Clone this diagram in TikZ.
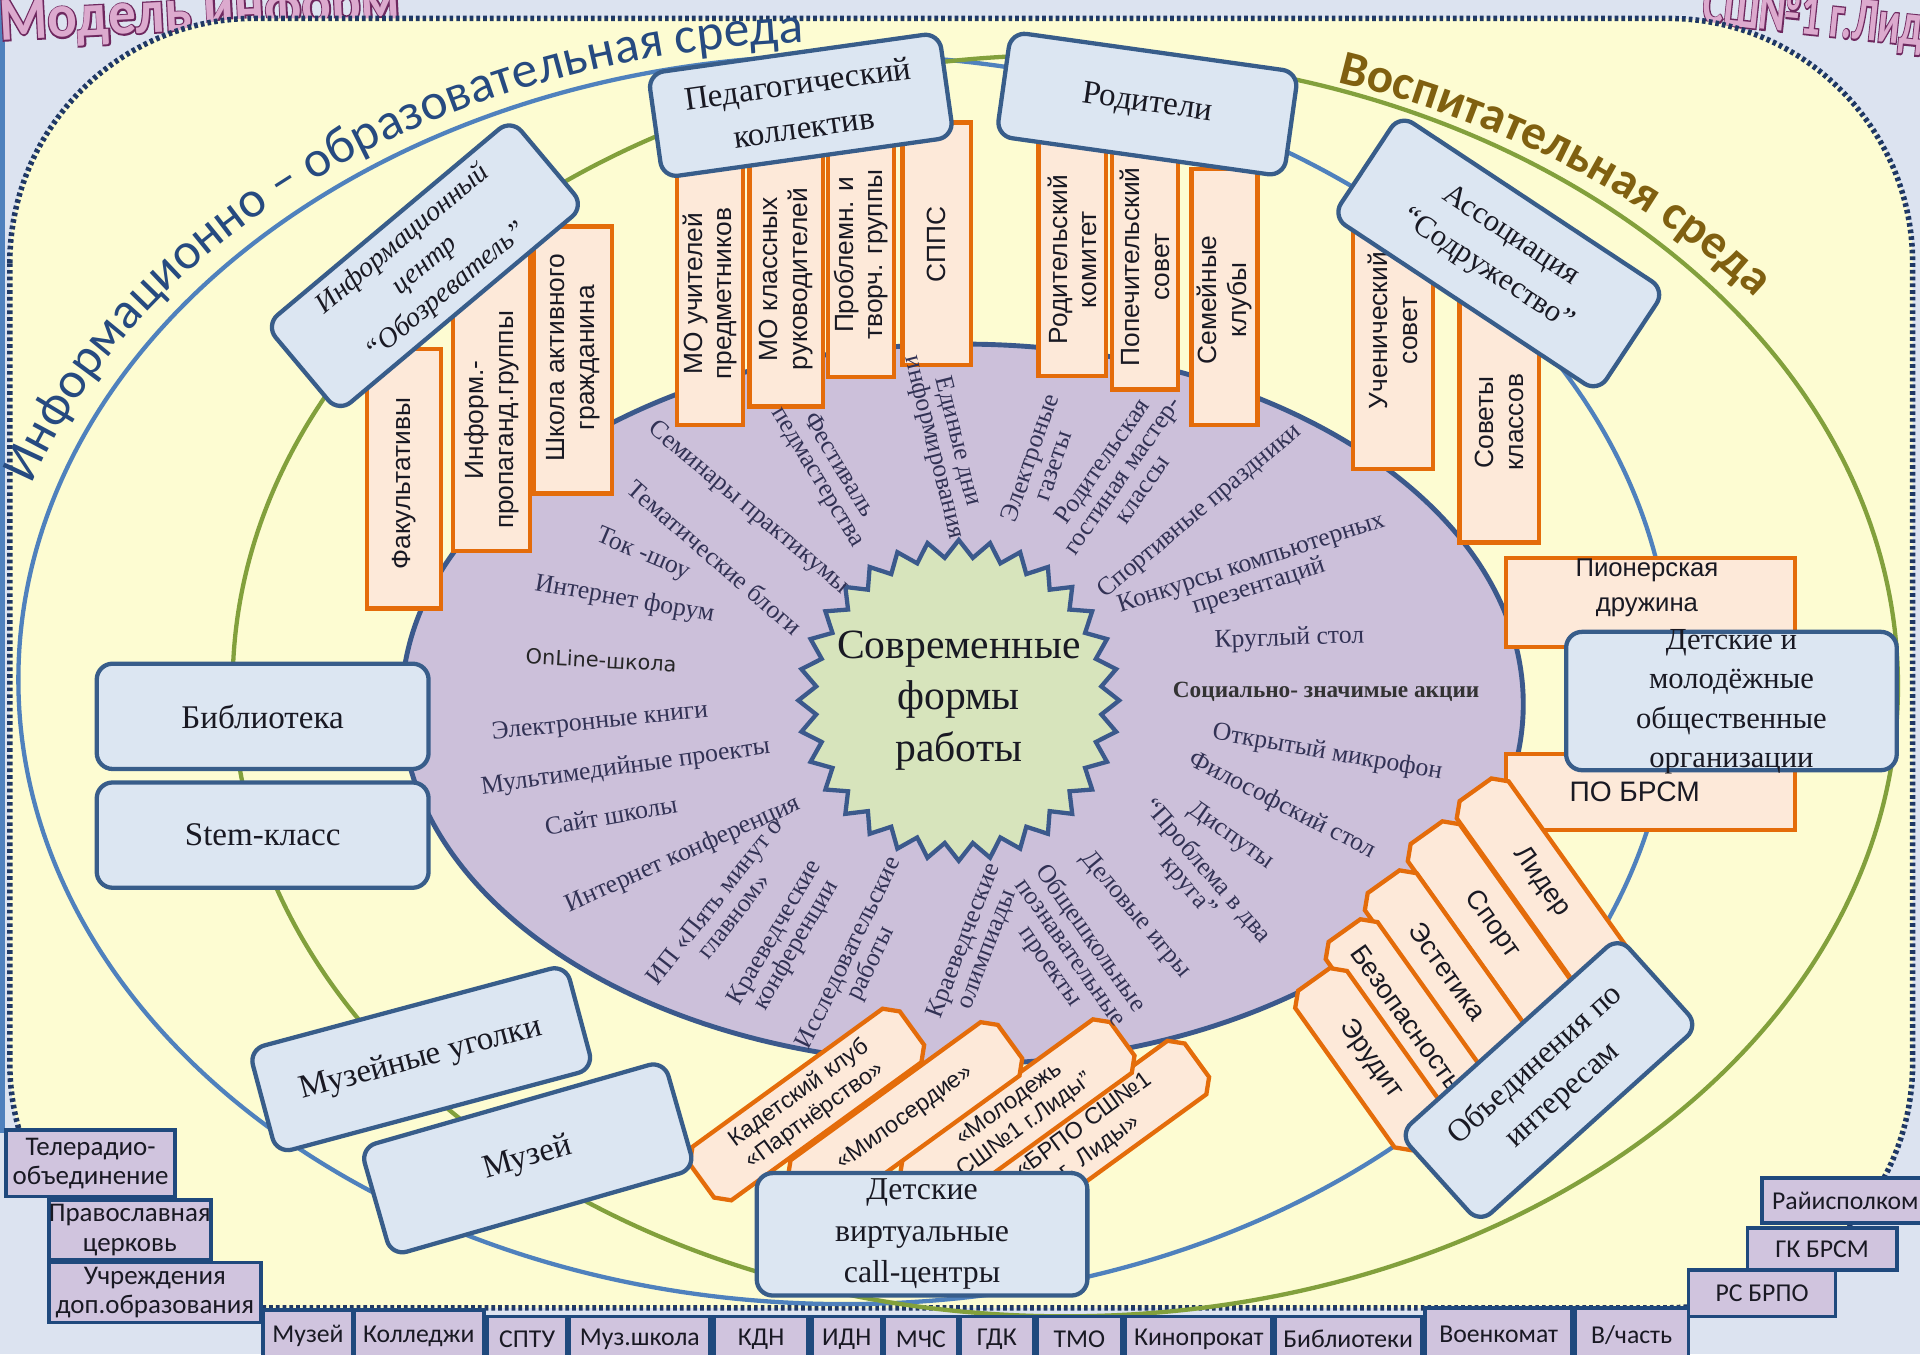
\documentclass[tikz,border=0pt]{standalone}
\usepackage{fontspec}
\setmainfont{Liberation Serif}
\newfontfamily\lsans{Liberation Sans}
\newfontfamily\carl{Carlito}
\newfontfamily\ttlB{Carlito}[FakeBold=5]
\newfontfamily\dvs{DejaVu Sans}
\usetikzlibrary{shapes.misc,shapes.geometric,decorations.text}
\newcommand\fsz[2]{\fontsize{#1}{#2}\selectfont}
\definecolor{bgc}{RGB}{220,227,240}
\definecolor{yel}{RGB}{253,252,210}
\definecolor{dotc}{RGB}{31,56,100}
\definecolor{bluel}{RGB}{79,129,189}
\definecolor{greenl}{RGB}{130,160,60}
\definecolor{lav}{RGB}{204,192,218}
\definecolor{purpb}{RGB}{59,89,140}
\definecolor{starf}{RGB}{215,228,188}
\definecolor{peach}{RGB}{253,233,217}
\definecolor{orl}{RGB}{228,108,10}
\definecolor{bfill}{RGB}{220,230,242}
\definecolor{bline}{RGB}{56,93,138}
\definecolor{lblc}{RGB}{50,50,85}
\definecolor{txtc}{RGB}{25,25,35}
\definecolor{pbf}{RGB}{208,196,222}
\definecolor{pbl}{RGB}{31,73,125}
\definecolor{arcblue}{RGB}{38,74,128}
\definecolor{brownc}{RGB}{128,96,16}
\definecolor{ttlf}{RGB}{220,170,206}
\definecolor{ttlo}{RGB}{110,40,95}
\newcommand\vbar[7]{%
  \node[obox, rotate=90, minimum width=#4-#3, minimum height=#5] (#1) at (#2,{(#3+#4)/2}) {};
  \node[otxt, rotate=90] (#1t) at (#2,#6) {#7};%
}
\begin{document}
\begin{tikzpicture}[x=1pt,y=-1pt,
  obox/.style={chamfered rectangle, chamfered rectangle xsep=7pt, draw=orl, line width=3.5pt, fill=peach, inner sep=0pt, text=txtc, align=center},
  otxt/.style={font=\lsans\fsz{21.5}{24}, text=txtc, align=center, inner sep=0pt},
  bbox/.style={rectangle, rounded corners=13pt, draw=bline, line width=3.5pt, fill=bfill, align=center, inner sep=0pt, text=txtc, font=\fsz{27}{36}},
  lbl/.style={font=\fsz{21}{20}, text=lblc, align=center, inner sep=0pt},
  pb/.style={rectangle, draw=pbl, line width=3pt, fill=pbf, font=\carl\fsz{21}{23}, text=txtc, align=center, inner sep=0pt},
  ttlo/.style={font=\ttlB\bfseries\fsz{50}{50}, inner sep=0pt, text=ttlo},
  ttlf/.style={font=\carl\bfseries\fsz{50}{50}, inner sep=0pt, text=ttlf},
  dgb/.style={obox, rotate=36, minimum width=212, minimum height=54, font=\lsans\fsz{19}{22}},
  ibox/.style={obox, rotate=-54.5, minimum height=52, font=\lsans\fsz{22}{24}}
]
\useasboundingbox (0,0) rectangle (1568,1106);
\clip (0,0) rectangle (1568,1106);
\fill[bgc] (0,0) rectangle (1568,1106);
\draw[bluel, line width=4pt] (2,0) -- (2,925);

% title fragments (arched title, mostly outside the frame)
\node[ttlo, anchor=base west, rotate=3, xscale=0.9, transform shape] (tlo) at (0,33) {Модель информ};
\node[ttlf, anchor=base west, rotate=3, xscale=0.9, transform shape] (tl) at (0,33) {Модель информ};
\node[ttlo, anchor=base east, rotate=-6, xscale=0.65, transform shape] (tro) at (1592,40) {СШ№1 г.Лиды};
\node[ttlf, anchor=base east, rotate=-6, xscale=0.65, transform shape] (tr) at (1592,40) {СШ№1 г.Лиды};

% yellow area
\draw[fill=yel, draw=dotc, line width=4.5pt, dash pattern=on 3pt off 2.5pt, rounded corners=200pt] (8,15) rectangle (1562,1068);

% environment ellipses
\draw[bluel, line width=3.5pt] (690,555) ellipse [x radius=675, y radius=510];
\draw[greenl, line width=3.5pt] (870,560) ellipse [x radius=680, y radius=515];

% inner ellipse and star
\draw[fill=lav, draw=purpb, line width=4pt] (786,575) ellipse [x radius=458, y radius=294];
\node[star, star points=32, star point ratio=1.12, minimum size=262, inner sep=0pt, draw=purpb, line width=3.5pt, fill=starf] (star) at (783,572) {};
\node[font=\fsz{34}{42}, text=txtc, align=center, inner sep=0pt] (ctr) at (783,572) {Современные\\формы\\работы};

% vertical orange bars
\vbar{fak}{330}{285}{497}{60}{395}{Факультативы}
\vbar{inf}{401.5}{200}{450}{63}{343}{Информ.-\\пропаганд.группы}
\vbar{shk}{468}{185}{403}{64}{292}{Школа активного\\гражданина}
\vbar{mou}{580}{125}{347}{54}{240}{МО учителей\\предметников}
\vbar{mok}{642}{115}{332}{60}{228}{МО классных\\руководителей}
\vbar{prb}{703}{108}{308}{54}{208}{Проблемн. и\\творч. группы}
\vbar{spp}{765}{100}{298}{56}{200}{СППС}
\vbar{rod}{875.5}{105}{307}{55}{212}{Родительский\\комитет}
\vbar{pop}{935}{112}{318}{54}{218}{Попечительский\\совет}
\vbar{sem}{1000}{138}{347}{54}{245}{Семейные\\клубы}
\vbar{uch}{1137.5}{170}{383}{65}{270}{Ученический\\совет}
\vbar{sov}{1224.5}{225}{443}{65}{345}{Советы\\классов}

% horizontal orange boxes
\node[obox, minimum width=236, minimum height=73] (pio) at (1348,492) {};
\node[otxt, font=\lsans\fsz{21}{28}] (piot) at (1345,480) {Пионерская\\дружина};
\node[obox, minimum width=236, minimum height=62] (pob) at (1348,647) {};
\node[otxt, font=\lsans\fsz{23}{26}] (pobt) at (1335,647) {ПО БРСМ};

% diagonal orange boxes (interests)
\node[ibox, minimum width=185] (lid) at (1258.7,720.3) {Лидер};
\node[ibox, minimum width=185] (spo) at (1218.7,755.3) {Спорт};
\node[ibox, minimum width=180] (est) at (1182.2,793.3) {Эстетика};
\node[ibox, minimum width=175] (bez) at (1148.8,831.2) {Безопасность};
\node[ibox, minimum width=160] (eru) at (1119.5,865) {Эрудит};

% diagonal orange boxes (call-centres)
\node[dgb] (brp) at (891.7,928.2) {«БРПО СШ№1\\г. Лиды»};
\node[dgb] (mol) at (830.8,910.7) {«Молодежь\\СШ№1 г.Лиды”};
\node[dgb] (mil) at (739.1,913) {«Милосердие»};
\node[dgb] (kad) at (659,902) {Кадетский клуб\\«Партнёрство»};

% labels in the ellipse
\node[lbl, rotate=-40] (l1) at (611,415) {Семинары практикумы};
\node[lbl, rotate=-41] (l2) at (584,455) {Тематические блоги};
\node[lbl, rotate=-23] (l3) at (525,453) {Ток -шоу};
\node[lbl, rotate=-10] (l4) at (510,490) {Интернет форум};
\node[font=\dvs\fsz{17}{17}, text=black!85, rotate=-3, inner sep=0pt] (l5) at (491,539) {OnLine-школа};
\node[lbl, rotate=6] (l6) at (490,590) {Электронные книги};
\node[lbl, rotate=8] (l7) at (511,627) {Мультимедийные проекты};
\node[lbl, rotate=10] (l8) at (499,666) {Сайт школы};
\node[lbl, rotate=24] (l9) at (558,698) {Интернет конференция};
\node[lbl, rotate=52] (l10) at (591,742) {ИП «Пять минут о\\главном»};
\node[lbl, rotate=60] (l11) at (642,767) {Краеведческие\\конференции};
\node[lbl, rotate=64] (l12) at (703,783) {Исследовательские\\работы};
\node[lbl, rotate=69] (l13) at (797,772) {Краеведческие\\олимпиады};
\node[lbl, rotate=-55] (l14) at (874,778) {Общешкольные\\познавательные\\проекты};
\node[lbl, rotate=-50] (l15) at (927,747) {Деловые игры};
\node[lbl, rotate=-49] (l16) at (978,718) {“Проблема в два\\круга”};
\node[lbl, rotate=-35] (l17) at (1005,683) {Диспуты};
\node[lbl, rotate=-27] (l18) at (1047,658) {Философский стол};
\node[lbl, rotate=-10] (l19) at (1084,615) {Открытый микрофон};
\node[font=\bfseries\fsz{19}{19}, text=black!80, inner sep=0pt] (l20) at (1083,565) {Социально- значимые акции};
\node[lbl, rotate=2] (l21) at (1053,522) {Круглый стол};
\node[lbl, rotate=18] (l22) at (1025,470) {Конкурсы компьютерных\\презентаций};
\node[lbl, rotate=40] (l23) at (980,418) {Спортивные праздники};
\node[lbl, rotate=55] (l24) at (916,388) {Родительская\\гостиная мастер-\\классы};
\node[lbl, rotate=71] (l25) at (850,377) {Электроные\\газеты};
\node[lbl, rotate=-76] (l26) at (772,363) {Единые дни\\информирования};
\node[lbl, rotate=-59] (l27) at (676,385) {Фестиваль\\педмастерства};

% blue boxes
\node[bbox, rotate=8, minimum width=240, minimum height=86] (ped) at (654,86) {Педагогический\\коллектив};
\node[bbox, rotate=-8, minimum width=237, minimum height=86] (rodb) at (937,85) {Родители};
\node[bbox, rotate=40, minimum width=262, minimum height=93, font=\itshape\fsz{23}{28}] (infc) at (347,217) {Информационный\\центр\\“Обозреватель”};
\node[bbox, rotate=-33.5, minimum width=260, minimum height=100, font=\fsz{25}{34}] (asc) at (1224,207) {Ассоциация\\“Содружество”};
\node[bbox, minimum width=271, minimum height=86] (bib) at (214.5,585) {Библиотека};
\node[bbox, minimum width=271, minimum height=86] (stem) at (214.5,682) {Stem-класс};
\node[bbox, minimum width=270, minimum height=113] (dmo) at (1414,572.5) {};
\node[font=\fsz{25}{32}, text=txtc, align=center, inner sep=0pt] (dmot) at (1414,573) {Детские и\\молодёжные\\общественные\\организации};
\node[bbox, rotate=42, minimum width=241, minimum height=98, font=\fsz{26}{33}] (obj) at (1265,882) {Объединения по\\интересам};
\node[bbox, rotate=15, minimum width=268, minimum height=88] (muzu) at (344,865) {Музейные уголки};
\node[bbox, rotate=16, minimum width=258, minimum height=92] (muz) at (431,946) {Музей};
\node[bbox, minimum width=270, minimum height=100, font=\fsz{26}{34}] (dvc) at (753,1008) {Детские\\виртуальные\\call-центры};

% arc texts
\path[decorate, decoration={text along path, text align=center, text color=arcblue,
  text={|\carl\fsz{42}{42}|Информационно – образовательная среда}}]
  (24.9,399.2) arc[start angle=197.4, end angle=267.5, x radius=697, y radius=521];
\path[decorate, decoration={text along path, text align=center, text color=brownc,
  text={|\carl\bfseries\fsz{40}{40}|Воспитательная среда}}]
  (1083,64.9) arc[start angle=287.4, end angle=323.3, x radius=711, y radius=519];

% external partner boxes
\node[pb, font=\carl\fsz{22}{24}, minimum width=138, minimum height=54] (tel) at (74,950) {Телерадио-\\объединение};
\node[pb, font=\carl\fsz{22}{24}, minimum width=132, minimum height=49] (prav) at (106,1004.5) {Православная\\церковь};
\node[pb, font=\carl\fsz{22}{24}, minimum width=173, minimum height=49] (uchr) at (126.5,1055.5) {Учреждения\\доп.образования};
\node[pb, minimum width=73, minimum height=42] (b1) at (251.5,1091) {Музей};
\node[pb, minimum width=106, minimum height=42] (b2) at (342,1091) {Колледжи};
\node[pb, minimum width=65, minimum height=37] (b3) at (430.5,1093.5) {СПТУ};
\node[pb, minimum width=115, minimum height=37] (b4) at (522.5,1093.5) {Муз.школа};
\node[pb, minimum width=77, minimum height=37] (b5) at (621.5,1093.5) {КДН};
\node[pb, minimum width=57, minimum height=37] (b6) at (691.5,1093.5) {ИДН};
\node[pb, minimum width=60, minimum height=37] (b7) at (752,1093.5) {МЧС};
\node[pb, minimum width=60, minimum height=37] (b8) at (814,1093.5) {ГДК};
\node[pb, minimum width=69, minimum height=37] (b9) at (881.5,1093.5) {ТМО};
\node[pb, minimum width=120, minimum height=37] (b10) at (979,1093.5) {Кинопрокат};
\node[pb, minimum width=120, minimum height=37] (b11) at (1101,1093.5) {Библиотеки};
\node[pb, minimum width=120, minimum height=44] (b12) at (1224,1090) {Военкомат};
\node[pb, minimum width=93, minimum height=44] (b13) at (1332.5,1090) {В/часть};
\node[pb, minimum width=120, minimum height=38] (rs) at (1439,1056) {РС БРПО};
\node[pb, minimum width=122, minimum height=34] (gk) at (1488,1020) {ГК БРСМ};
\node[pb, minimum width=136, minimum height=37] (rai) at (1507,980.5) {Райисполком};
\end{tikzpicture}
\end{document}
